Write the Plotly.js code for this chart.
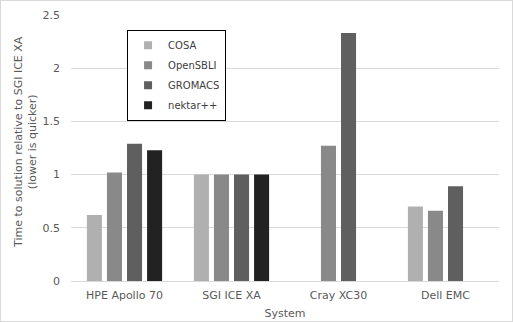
<!DOCTYPE html>
<html>
<head>
<meta charset="utf-8">
<script src="https://cdn.plot.ly/plotly-3.0.1.min.js"></script>
<style>
  html, body { margin: 0; padding: 0; background: #fff; }
  #chart { width: 513px; height: 322px; box-sizing: border-box; border: 1px solid #d9d9d9; }
</style>
</head>
<body>
<div id="chart"></div>
<script>
const systems = ["HPE Apollo 70", "SGI ICE XA", "Cray XC30", "Dell EMC"];
const cosa = [0.62, 1.0, null, 0.70];
const opensbli = [1.02, 1.0, 1.27, 0.66];
const gromacs = [1.29, 1.0, 2.33, 0.89];
const nektar = [1.23, 1.0, null, null];

const names = ["COSA", "OpenSBLI", "GROMACS", "nektar++"];
const colors = ["#b0b0b0", "#898989", "#5f5f5f", "#222222"];
const series = [cosa, opensbli, gromacs, nektar];

// bars (legend shown by small square markers below)
const data = series.map(function (vals, i) {
  return {
    type: "bar",
    x: systems,
    y: vals,
    name: names[i],
    showlegend: false,
    marker: {color: colors[i]}
  };
});

// legend entries with small squares like the original
names.forEach(function (nm, i) {
  data.push({
    type: "scatter",
    mode: "markers",
    x: [null],
    y: [null],
    name: nm,
    legendgroup: nm,
    marker: {symbol: "square", size: 8, color: colors[i]}
  });
});

const fnt = "DejaVu Sans, Verdana, sans-serif";

const layout = {
  width: 511,
  height: 320,
  margin: {l: 70, r: 13, t: 14, b: 40},
  paper_bgcolor: "#ffffff",
  plot_bgcolor: "#ffffff",
  barmode: "group",
  bargap: 0.25,
  bargroupgap: 0.25,
  font: {family: fnt, size: 11, color: "#595959"},
  showlegend: true,
  legend: {
    x: 0.131, y: 0.945, xanchor: "left", yanchor: "top",
    bgcolor: "#ffffff", bordercolor: "#000000", borderwidth: 1,
    font: {family: fnt, size: 10, color: "#404040"},
    tracegroupgap: 1,
    entrywidth: 75
  },
  xaxis: {
    title: {text: "System", font: {size: 11, color: "#595959"}, standoff: 8},
    showgrid: false,
    showline: true,
    linecolor: "#d9d9d9",
    ticks: "",
    ticklabelstandoff: 4,
    tickfont: {size: 11, color: "#595959"}
  },
  yaxis: {
    range: [0, 2.5],
    tickvals: [0, 0.5, 1, 1.5, 2, 2.5],
    ticktext: ["0", "0.5", "1", "1.5", "2", "2.5"],
    gridcolor: "#d9d9d9",
    zeroline: false,
    ticks: "",
    ticklabelstandoff: 10,
    tickfont: {size: 11, color: "#595959"}
  },
  annotations: [{
    text: "Time to solution relative to SGI ICE XA<br>(lower is quicker)",
    textangle: -90,
    xref: "paper", yref: "paper",
    x: 0, y: 0.523, xanchor: "center", yanchor: "middle",
    xshift: -45,
    showarrow: false,
    font: {family: fnt, size: 11, color: "#595959"}
  }]
};

Plotly.newPlot("chart", data, layout, {displayModeBar: false, staticPlot: true});
</script>
</body>
</html>
